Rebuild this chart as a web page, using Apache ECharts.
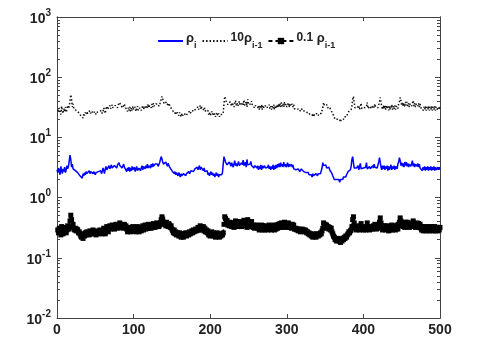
<!DOCTYPE html>
<html>
<head>
<meta charset="utf-8">
<script src="https://cdn.jsdelivr.net/npm/echarts@6/dist/echarts.min.js"></script>
<style>
  html, body { margin: 0; padding: 0; background: #fff; }
  #chart { width: 479px; height: 338px; }
</style>
</head>
<body>
<div id="chart"></div>
<script>
// rho_i, i = 0..500
const rho = [
  2.9, 2.6, 3.1, 2.7, 2.4, 3.3, 2.8, 2.5, 3.0, 2.7,
  3.2, 2.6, 2.9, 3.4, 3.0, 3.3, 4.1, 5.1, 4.3, 3.2,
  3.6, 3.0, 2.9, 3.1, 2.8, 3.0, 2.9, 2.6, 2.7, 2.5,
  2.3, 2.2, 2.4, 2.1, 2.5, 2.3, 2.6, 2.4, 2.7, 2.5,
  2.6, 2.4, 2.8, 2.5, 2.7, 2.6, 2.9, 2.5, 2.7, 2.6,
  2.4, 2.6, 2.8, 2.5, 2.7, 2.9, 2.6, 2.8, 2.5, 2.7,
  3.1, 2.8, 2.5, 3.0, 3.3, 2.9, 2.7, 3.1, 3.4, 3.0,
  3.2, 3.5, 3.1, 3.3, 3.0, 3.4, 3.6, 3.2, 3.1, 3.5,
  3.3, 3.8, 3.4, 3.2, 3.5, 3.1, 3.3, 3.6, 3.2, 3.4,
  3.0, 2.7, 3.1, 2.8, 3.2, 2.7, 3.1, 2.8, 3.3, 2.9,
  2.8, 3.2, 2.7, 3.0, 3.3, 2.8, 2.7, 3.1, 3.2, 2.8,
  3.1, 3.4, 2.9, 3.3, 3.5, 3.0, 3.4, 3.1, 3.6, 3.1,
  3.4, 3.5, 3.1, 3.6, 3.2, 3.7, 3.3, 3.2, 3.6, 3.8,
  3.4, 3.6, 3.3, 3.5, 3.8, 4.3, 4.8, 4.4, 3.9, 3.6,
  3.8, 3.4, 3.9, 3.6, 3.3, 3.7, 3.5, 3.2, 3.4, 3.0,
  2.8, 2.6, 2.9, 2.5, 2.7, 2.4, 2.6, 2.5, 2.3, 2.6,
  2.4, 2.2, 2.5, 2.3, 2.2, 2.5, 2.4, 2.6, 2.3, 2.5,
  2.6, 2.4, 2.7, 2.5, 2.6, 2.8, 2.6, 2.9, 2.7, 2.8,
  3.0, 2.8, 2.9, 3.2, 2.9, 3.1, 3.4, 2.9, 3.2, 3.0,
  3.3, 2.8, 3.1, 2.7, 2.9, 2.6, 2.8, 2.4, 2.6, 2.3,
  2.5, 2.7, 2.4, 2.6, 2.3, 2.5, 2.2, 2.4, 2.6, 2.3,
  2.5, 2.2, 2.4, 2.3, 2.5, 2.4, 2.6, 3.6, 4.8, 4.5,
  3.9, 4.2, 3.5, 3.7, 3.4, 3.9, 3.6, 3.3, 3.8, 3.5,
  3.2, 3.6, 4.1, 3.4, 3.7, 3.3, 3.5, 4.0, 3.4, 3.6,
  3.3, 3.8, 3.5, 4.2, 3.4, 3.6, 3.9, 3.2, 4.3, 3.5,
  3.7, 3.3, 3.6, 4.0, 3.4, 3.2, 3.5, 3.1, 3.4, 3.3,
  3.5, 3.1, 3.4, 2.9, 3.3, 3.0, 3.5, 2.9, 3.4, 3.1,
  2.9, 3.4, 3.1, 3.3, 2.9, 3.2, 3.5, 3.0, 3.3, 2.9,
  3.3, 3.0, 3.5, 2.9, 3.4, 3.0, 3.5, 3.1, 3.6, 3.2,
  3.7, 3.2, 3.8, 3.3, 3.6, 3.2, 3.9, 3.3, 3.6, 3.2,
  3.5, 3.8, 3.2, 3.6, 3.3, 3.1, 3.6, 3.2, 3.5, 3.0,
  3.0, 3.1, 2.9, 3.0, 2.8, 3.0, 2.9, 2.7, 2.9, 3.0,
  2.8, 2.9, 2.7, 2.9, 2.8, 2.6, 2.7, 2.5, 2.6, 2.4,
  2.5, 2.3, 2.4, 2.2, 2.5, 2.3, 2.4, 2.2, 2.5, 2.4,
  2.3, 2.5, 2.4, 2.6, 2.5, 2.8, 3.1, 3.8, 3.4, 3.6,
  3.2, 3.5, 3.1, 3.3, 3.0, 3.2, 2.9, 3.1, 2.7, 2.5,
  2.3, 2.2, 2.0, 2.1, 1.9, 2.0, 2.1, 1.9, 2.0, 1.8,
  2.0, 1.9, 2.1, 2.0, 2.2, 2.1, 2.3, 2.2, 2.4, 2.5,
  2.7, 2.6, 2.8, 2.9, 3.3, 4.3, 4.8, 3.8, 3.1, 3.3,
  2.9, 3.1, 3.0, 3.4, 2.9, 3.1, 3.7, 3.0, 3.2, 2.9,
  3.1, 3.3, 2.9, 3.2, 3.8, 3.0, 3.1, 2.9, 3.3, 3.0,
  3.2, 3.0, 3.4, 3.1, 3.6, 3.2, 3.0, 3.3, 3.1, 3.5,
  3.9, 4.6, 3.8, 3.2, 2.9, 3.4, 3.0, 3.4, 2.9, 3.3,
  3.0, 3.4, 2.8, 3.3, 2.9, 3.2, 3.5, 2.9, 3.3, 3.0,
  3.4, 2.9, 3.3, 3.5, 3.0, 3.6, 3.9, 4.6, 4.1, 3.4,
  3.8, 3.3, 3.7, 3.2, 3.9, 3.4, 3.9, 3.3, 3.7, 3.2,
  3.6, 3.8, 3.3, 3.7, 4.1, 3.3, 3.7, 3.2, 3.6, 3.8,
  3.3, 3.7, 3.2, 3.6, 3.1, 2.9, 3.3, 2.8, 3.2, 2.9,
  3.3, 2.8, 3.2, 2.9, 3.3, 2.8, 3.2, 2.9, 3.3, 2.8,
  3.2, 2.9, 3.3, 2.8, 3.2, 2.9, 2.8, 3.2, 2.9, 3.2,
  3.0
];
const seriesNames = ['rho', 'rho10', 'rho01'];
const xTicks = [0, 100, 200, 300, 400, 500];
const yTicks = [0.01, 0.1, 1, 10, 100, 1000];
const minorSteps = [2, 3, 4, 5, 6, 7, 8, 9];

let yMinor = [];
yTicks.slice(0, -1).forEach(d => {
  minorSteps.forEach(m => yMinor.push(d * m));
});

// the two other curves are the previous step scaled by 10 and by 0.1
let lineRho = rho.map((v, i) => [i, v]);
let lineUp = [];
let lineDown = [];
for (let i = 1; i < rho.length; i++) {
  lineUp.push([i, 10 * rho[i - 1]]);
  lineDown.push([i, 0.1 * rho[i - 1]]);
}

const axisColor = '#444';
const font = '"Liberation Sans", Arial, sans-serif';

function yAxis(position, ticks, len, showLabel) {
  return {
    type: 'log',
    logBase: 10,
    min: 0.01,
    max: 1000,
    position: position,
    axisLine: { show: true, lineStyle: { color: axisColor, width: 1 } },
    axisTick: {
      show: true,
      inside: true,
      length: len,
      customValues: ticks,
      lineStyle: { color: axisColor }
    },
    axisLabel: {
      show: showLabel,
      customValues: yTicks,
      margin: 6,
      formatter: function(v) {
        let e = Math.round(Math.log10(v));
        return `{b|10}{s|${e}}`;
      },
      rich: {
        b: { fontFamily: font, fontWeight: 'bold', fontSize: 14, color: '#222', lineHeight: 18, verticalAlign: 'bottom' },
        s: { fontFamily: font, fontWeight: 'bold', fontSize: 10, color: '#222', lineHeight: 18, verticalAlign: 'top' }
      }
    },
    splitLine: { show: false },
    minorTick: { show: false }
  };
}

function xAxis(position, showLabel) {
  return {
    type: 'value',
    min: 0,
    max: 500,
    interval: 100,
    position: position,
    axisLine: { show: true, onZero: false, lineStyle: { color: axisColor, width: 1 } },
    axisTick: { show: true, inside: true, length: 4, lineStyle: { color: axisColor } },
    axisLabel: {
      show: showLabel,
      margin: 5,
      fontFamily: font,
      fontWeight: 'bold',
      fontSize: 14,
      color: '#222',
      customValues: xTicks
    },
    splitLine: { show: false }
  };
}

const legendRich = {
  n: { fontFamily: font, fontWeight: 'bold', fontSize: 12, color: '#222', lineHeight: 18, verticalAlign: 'top' },
  g: { fontFamily: font, fontWeight: 'bold', fontSize: 13, color: '#222', lineHeight: 18, verticalAlign: 'top' },
  s: { fontFamily: font, fontWeight: 'bold', fontSize: 9, color: '#222', lineHeight: 18, verticalAlign: 'bottom' }
};
const legendText = {
  rho: '{g|ρ}{s|i}',
  rho10: '{n|10}{g|ρ}{s|i-1}',
  rho01: '{n|0.1}{g| ρ}{s|i-1}'
};
const noSymbol = { color: 'rgba(0,0,0,0)', borderWidth: 0, opacity: 0 };

let chart = echarts.init(document.getElementById('chart'), null, { renderer: 'canvas' });
chart.setOption({
  animation: false,
  backgroundColor: '#fff',
  grid: { left: 57, right: 39, top: 17, bottom: 20, containLabel: false },
  legend: {
    left: 152,
    top: 27,
    itemGap: 5,
    itemWidth: 25,
    itemHeight: 8,
    data: [
      { name: seriesNames[0], itemStyle: noSymbol },
      { name: seriesNames[1], itemStyle: noSymbol },
      { name: seriesNames[2] }
    ],
    formatter: name => legendText[name],
    textStyle: { rich: legendRich, padding: [0, 0, 0, -2] }
  },
  xAxis: [xAxis('bottom', true), xAxis('top', false)],
  yAxis: [
    yAxis('left', yTicks, 5, true),
    yAxis('left', yMinor, 3, false),
    yAxis('right', yTicks, 5, false),
    yAxis('right', yMinor, 3, false)
  ],
  series: [
    {
      name: seriesNames[0],
      type: 'line',
      data: lineRho,
      showSymbol: false,
      symbol: 'none',
      lineStyle: { color: '#0000ff', width: 1.5 },
      itemStyle: { color: '#0000ff' }
    },
    {
      name: seriesNames[1],
      type: 'line',
      data: lineUp,
      showSymbol: false,
      symbol: 'none',
      lineStyle: { color: '#111', width: 1.5, type: [1.5, 2] },
      itemStyle: { color: '#111' }
    },
    {
      name: seriesNames[2],
      type: 'line',
      data: lineDown,
      symbol: 'rect',
      symbolSize: 5,
      showAllSymbol: true,
      lineStyle: { color: '#000', width: 1.5, type: [4, 3] },
      itemStyle: { color: '#000', borderWidth: 0 }
    }
  ]
});
</script>
</body>
</html>
